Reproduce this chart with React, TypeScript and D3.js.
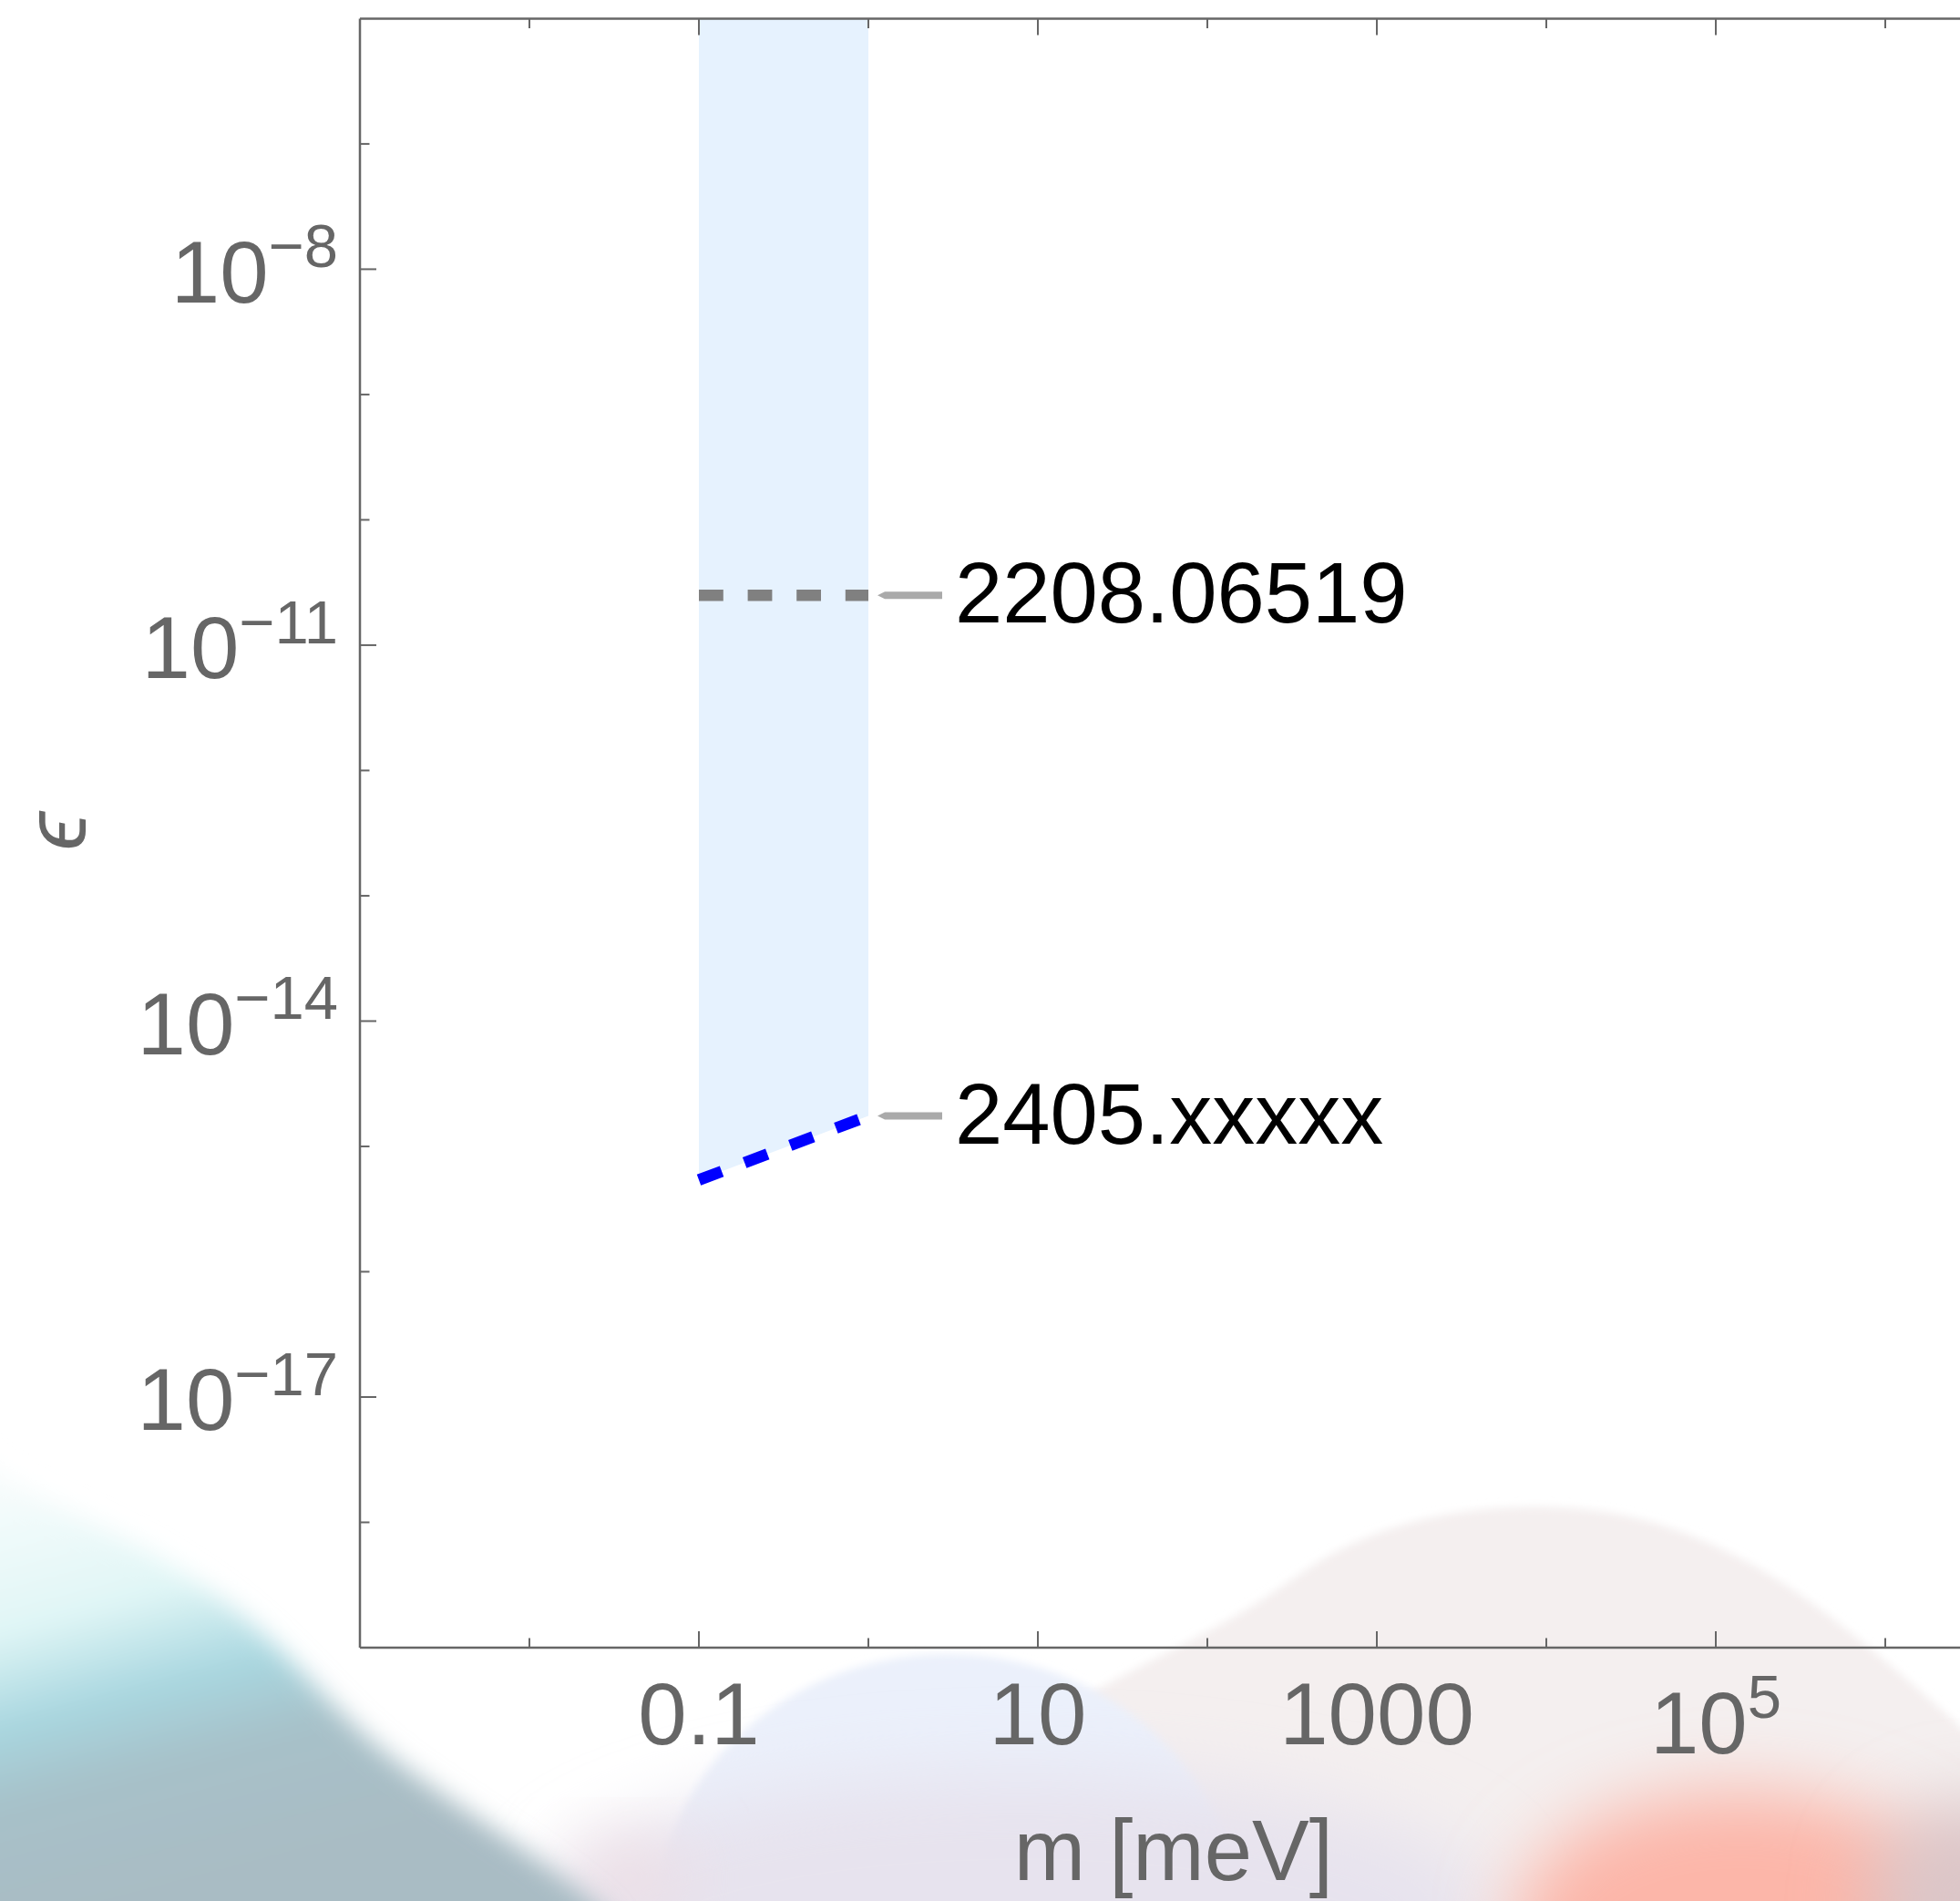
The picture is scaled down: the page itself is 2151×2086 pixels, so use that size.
import React from 'react';
import * as d3 from 'd3';

// ---------- data ----------
const xDomain: [number, number] = [1e-3, Math.pow(10, 6.6)];
const yDomain: [number, number] = [1e-19, 1e-6];

const xTickExponents = [-2, -1, 0, 1, 2, 3, 4, 5, 6];
const xMajorExponents = [-1, 1, 3, 5];
const xTickLabels = ['0.1', '10', '1000', '10^5'];

const yTickExponents = [-18, -17, -16, -15, -14, -13, -12, -11, -10, -9, -8, -7];
const yMajorExponents = [-17, -14, -11, -8];

// band (allowed region) between m = 0.1 and 1 meV, above the 2405 curve
const bandMass = [0.1, 1];
const bandTopEps = 1e-6;

// curves
const curve2208Mass = [0.1, 1];
const curve2208Eps = [2.5e-11, 2.5e-11];
const curve2405Mass = [0.1, 1];
const curve2405Eps = [5.4e-16, 1.75e-15];

const calloutLabels = ['2208.06519', '2405.xxxxx'];
const curveColors = ['#808080', '#0000ff'];

// ---------- layout ----------
const W = 2151;
const H = 2086;
const left = 395;
const top = 20.4;
const bottom = 1808;
const decadeX = 186;

const FONT = '"Liberation Sans", Arial, Helvetica, sans-serif';
const AXIS = '#666666';

export default function App() {
  const x = d3
    .scaleLog()
    .domain(xDomain)
    .range([left, left + decadeX * Math.log10(xDomain[1] / xDomain[0])]);
  const y = d3.scaleLog().domain(yDomain).range([bottom, top]);
  const xr = x.range()[1];

  const band = d3
    .area<number>()
    .x((m) => x(m))
    .y0((_, i) => y(curve2405Eps[i]))
    .y1(() => y(bandTopEps))(bandMass);

  const line = d3
    .line<[number, number]>()
    .x((d) => x(d[0]))
    .y((d) => y(d[1]));

  const curves = [
    { mass: curve2208Mass, eps: curve2208Eps },
    { mass: curve2405Mass, eps: curve2405Eps },
  ];

  const smooth = d3.line().curve(d3.curveBasis);

  const pinkBump = smooth([
    [820, 2150], [980, 1990], [1098, 1911], [1235, 1836], [1372, 1768], [1440, 1715],
    [1509, 1681], [1591, 1658], [1701, 1650], [1811, 1664], [1921, 1712], [2003, 1768],
    [2072, 1825], [2151, 1893], [2230, 1970], [2260, 2150],
  ] as [number, number][]) + 'Z';

  const tealShape = smooth([
    [-60, 1560], [0, 1628], [137, 1684], [274, 1770], [384, 1893], [453, 1948], [576, 2030],
    [660, 2090], [720, 2160], [-60, 2160],
  ] as [number, number][]) + 'Z';

  return (
    <svg
      width={W}
      height={H}
      viewBox={`0 0 ${W} ${H}`}
      style={{ position: 'absolute', left: 0, top: 0, background: '#ffffff' }}
    >
      <defs>
        <filter id="b6" x="-20%" y="-20%" width="140%" height="140%">
          <feGaussianBlur stdDeviation="5" />
        </filter>
        <filter id="b14" x="-30%" y="-30%" width="160%" height="160%">
          <feGaussianBlur stdDeviation="14" />
        </filter>
        <filter id="b40" x="-60%" y="-60%" width="220%" height="220%">
          <feGaussianBlur stdDeviation="40" />
        </filter>
        <linearGradient id="tealGrad" gradientUnits="userSpaceOnUse" x1="0" y1="1630" x2="120" y2="2086">
          <stop offset="0" stopColor="#f7fcfc" />
          <stop offset="0.33" stopColor="#e0f6f6" />
          <stop offset="0.55" stopColor="#a8d6df" />
          <stop offset="0.72" stopColor="#a7c1c9" />
          <stop offset="1" stopColor="#a9bcc4" />
        </linearGradient>
      </defs>

      {/* decorative background */}
      <g>
        <path d={pinkBump} fill="#f4efef" filter="url(#b6)" />
        <ellipse cx={1040} cy={2110} rx={320} ry={295} fill="#ebf0fb" filter="url(#b6)" />
        <ellipse cx={1120} cy={2095} rx={520} ry={150} fill="#e7e3ee" filter="url(#b40)" />
        <ellipse cx={690} cy={2060} rx={60} ry={40} fill="#eddde3" filter="url(#b40)" />
        <path d={tealShape} fill="url(#tealGrad)" filter="url(#b14)" />
        <ellipse cx={1910} cy={2115} rx={250} ry={150} fill="#fcb6a9" filter="url(#b40)" />
        <ellipse cx={2170} cy={2086} rx={120} ry={110} fill="#dcc6c8" filter="url(#b40)" />
      </g>

      {/* band */}
      <path d={band || ''} fill="#e6f2fe" />

      {/* curves */}
      {curves.map((c, i) => (
        <path
          key={i}
          d={line(c.mass.map((m, j) => [m, c.eps[j]] as [number, number])) || ''}
          fill="none"
          stroke={curveColors[i]}
          strokeWidth={12.6}
          strokeDasharray="26.8 26.8"
          strokeLinecap="butt"
        />
      ))}

      {/* callouts */}
      {curves.map((c, i) => {
        const lastM = c.mass[c.mass.length - 1];
        const lastE = c.eps[c.eps.length - 1];
        const cx = x(lastM);
        const cy = y(lastE);
        const x0 = cx + 10;
        const x1 = cx + 81;
        return (
          <g key={'c' + i}>
            <path
              d={`M${x0},${cy} L${x0 + 8},${cy - 4} L${x1},${cy - 4} L${x1},${cy + 4} L${x0 + 8},${cy + 4} Z`}
              fill="#aaaaaa"
            />
            <text x={cx + 95} y={cy + 30} fontFamily={FONT} fontSize={94} fill="#000">
              {calloutLabels[i]}
            </text>
          </g>
        );
      })}

      {/* frame */}
      <g stroke={AXIS} strokeWidth={2.5} fill="none">
        <line x1={left} y1={top} x2={left} y2={bottom} />
        <line x1={left} y1={top} x2={xr + 10} y2={top} />
        <line x1={left} y1={bottom} x2={xr + 10} y2={bottom} />
      </g>

      {/* x ticks */}
      <g stroke={AXIS} strokeWidth={2}>
        {xTickExponents.map((e) => {
          const xv = x(Math.pow(10, e));
          const len = xMajorExponents.includes(e) ? 18 : 10.5;
          return (
            <g key={e}>
              <line x1={xv} x2={xv} y1={bottom} y2={bottom - len} />
              <line x1={xv} x2={xv} y1={top} y2={top + len} />
            </g>
          );
        })}
      </g>
      {/* y ticks */}
      <g stroke={AXIS} strokeWidth={2}>
        {yTickExponents.map((e) => {
          const yv = y(Math.pow(10, e));
          const len = yMajorExponents.includes(e) ? 18 : 10.5;
          return <line key={e} x1={left} x2={left + len} y1={yv} y2={yv} />;
        })}
      </g>

      {/* x tick labels */}
      {xMajorExponents.map((e, i) => {
        const lab = xTickLabels[i];
        const xv = x(Math.pow(10, e));
        if (lab.includes('^')) {
          const [b, s] = lab.split('^');
          return (
            <text key={e} x={xv} y={1924} textAnchor="middle" fontFamily={FONT} fontSize={96} fill={AXIS}>
              <tspan>{b}</tspan>
              <tspan fontSize={67} dy={-39}>{s}</tspan>
            </text>
          );
        }
        return (
          <text key={e} x={xv} y={1914} textAnchor="middle" fontFamily={FONT} fontSize={96} fill={AXIS}>
            {lab}
          </text>
        );
      })}

      {/* y tick labels */}
      {yMajorExponents.map((e) => {
        const yv = y(Math.pow(10, e));
        return (
          <text key={e} x={371} y={yv + 36.4} textAnchor="end" fontFamily={FONT} fontSize={96} fill={AXIS}>
            <tspan>10</tspan>
            <tspan fontSize={67} dy={-38.7}>{'\u2212' + Math.abs(e)}</tspan>
          </text>
        );
      })}

      {/* axis labels */}
      <text
        x={(left + xr) / 2}
        y={2063}
        textAnchor="middle"
        fontFamily={FONT}
        fontSize={94}
        fill={AXIS}
      >
        m [meV]
      </text>
      <text
        transform={`translate(94, ${(top + bottom) / 2 - 2}) rotate(-90)`}
        textAnchor="middle"
        fontFamily={FONT}
        fontSize={96}
        fontStyle="italic"
        fill={AXIS}
      >
        {'\u03F5'}
      </text>
    </svg>
  );
}
